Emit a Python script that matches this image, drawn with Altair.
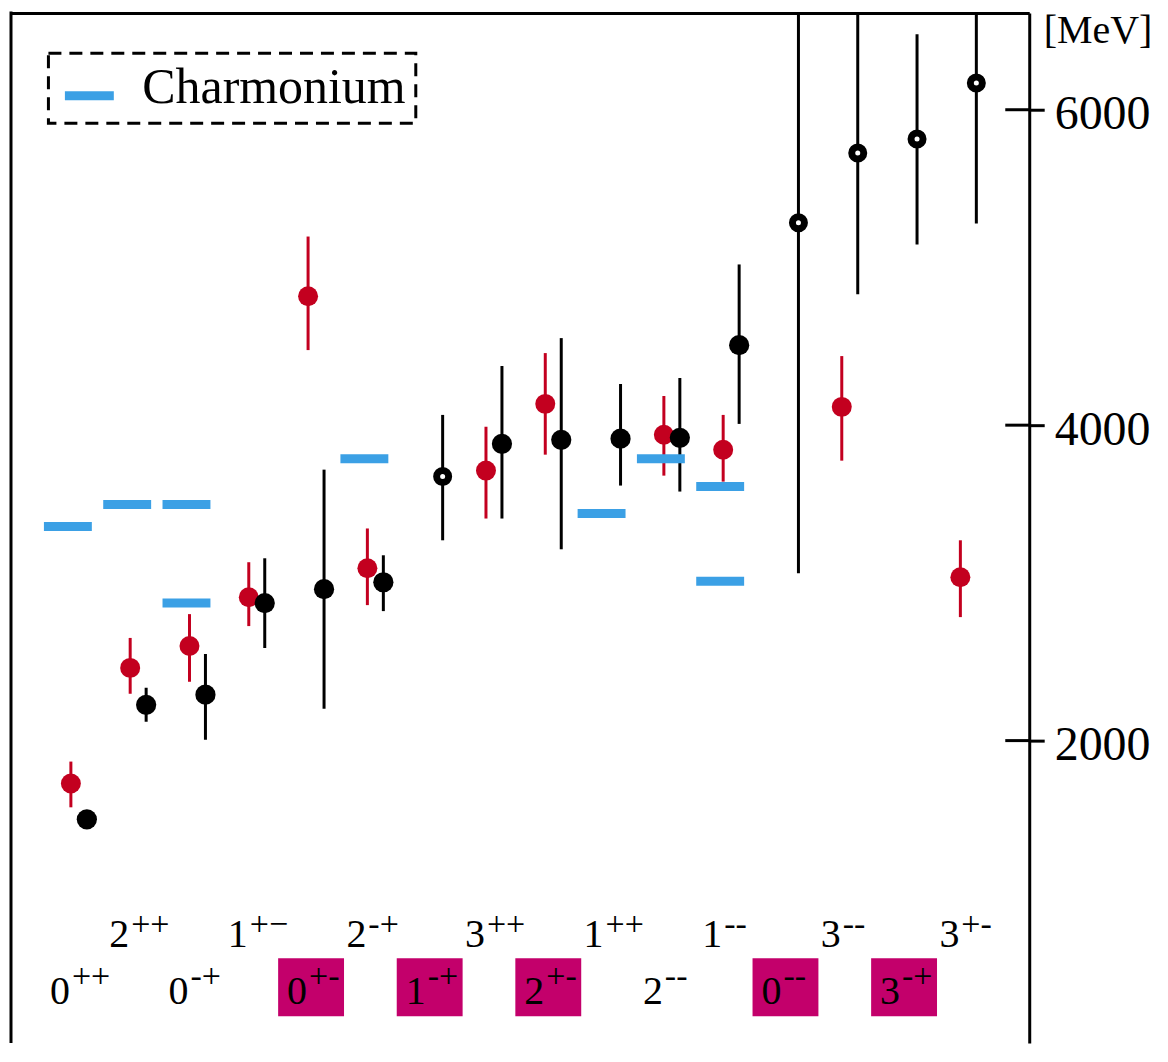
import altair as alt
import pandas as pd

# ---------------- data ----------------
channels = ["0++", "2++", "0-+", "1+\u2212", "0+-", "2-+", "1-+", "3++",
            "2+-", "1++", "2--", "1--", "0--", "3--", "3-+", "3+-"]
label_row = [0, 1, 0, 1, 0, 1, 0, 1, 0, 1, 0, 1, 0, 1, 0, 1]   # 0 = lower row, 1 = upper row
exotic = [0, 0, 0, 0, 1, 0, 1, 0, 1, 0, 0, 0, 1, 0, 1, 0]      # boxed labels

red_ch = [0, 1, 2, 3, 4, 5, 7, 8, 10, 11, 13, 15]
red_mass = [1728, 2461, 2600, 2909, 4817, 3093, 3712, 4135, 3939, 3844, 4116, 3036]
red_lo = [1577, 2297, 2373, 2726, 4476, 2859, 3408, 3813, 3680, 3642, 3775, 2783]
red_hi = [1867, 2651, 2802, 3131, 5196, 3345, 3990, 4457, 4185, 4065, 4438, 3270]

blk_ch = list(range(16))
blk_mass = [1501, 2227, 2291, 2872, 2960, 3004, 3674, 3882, 3907, 3914, 3920, 4507, 5284, 5726, 5815, 6169]
blk_lo = [1501, 2120, 2006, 2587, 2202, 2821, 3270, 3408, 3213, 3617, 3579, 4008, 3061, 4830, 5145, 5278]
blk_hi = [1501, 2335, 2549, 3156, 3718, 3175, 4065, 4375, 4552, 4261, 4299, 5019, 6900, 6900, 6478, 6900]
blk_open = [0, 0, 0, 0, 0, 0, 1, 0, 0, 0, 0, 0, 1, 1, 1, 1]

cc_ch = [0, 1, 2, 2, 5, 9, 10, 11, 11]
cc_mass = [3358, 3497, 3497, 2872, 3787, 3440, 3787, 3611, 3011]

y_ticks = [2000, 4000, 6000]

# ---------------- tables ----------------
red_df = pd.DataFrame({"ch": red_ch, "m": red_mass, "lo": red_lo, "hi": red_hi})
blk_df = pd.DataFrame({"ch": blk_ch, "m": blk_mass, "lo": blk_lo, "hi": blk_hi, "open": blk_open})
cc_df = pd.DataFrame({"ch": cc_ch, "m": cc_mass, "kind": ["Charmonium"] * len(cc_ch)})
lab_df = pd.DataFrame({
    "ch": list(range(len(channels))),
    "base": [c[0] for c in channels],
    "sup": [c[1:] for c in channels],
    "row": label_row,
    "exotic": exotic,
})
tick_df = pd.DataFrame({"v": y_ticks})
frame_df = pd.DataFrame({"a": [0]})

# ---------------- style ----------------
W, H = 1020, 1032
RED = "#c3001f"
BLUE = "#3ba0e5"
MAG = "#c3006b"
BLACK = "#000000"
SERIF = "Liberation Serif"

xs = alt.Scale(domain=[-0.993, 16.178], nice=False, zero=False)
ys = alt.Scale(domain=[82, 6614], nice=False, zero=False)

xaxis = alt.Axis(orient="top", ticks=False, labels=False, grid=False, title=None,
                 domainColor=BLACK, domainWidth=3)
yaxis = alt.Axis(orient="right", values=y_ticks, format="d", grid=False,
                 title="[MeV]", titleAngle=0, titleX=14, titleY=30, titleAlign="left",
                 titleBaseline="alphabetic", titleFont=SERIF, titleFontSize=40,
                 titleFontWeight="normal", titleColor=BLACK,
                 labelFont=SERIF, labelFontSize=48, labelColor=BLACK,
                 labelPadding=10, labelOffset=5,
                 tickSize=15, tickWidth=3, tickColor=BLACK,
                 domainColor=BLACK, domainWidth=3)

X = lambda f: alt.X(f, scale=xs, axis=xaxis)
Y = lambda f: alt.Y(f, scale=ys, axis=yaxis)

# label boxes for exotic quantum numbers
boxes = alt.Chart(lab_df).transform_filter("datum.exotic == 1").transform_calculate(
    x1="datum.ch - 0.488", x2="datum.ch + 0.623"
).mark_rect(color=MAG, opacity=1).encode(
    x=X("x1:Q"), x2="x2:Q", y=alt.value(947), y2=alt.value(1005)
)

def label_layers(row, base_y, sup_y):
    src = alt.Chart(lab_df).transform_filter(f"datum.row == {row}")
    base = src.mark_text(font=SERIF, fontSize=40, align="right", baseline="alphabetic",
                         color=BLACK, dx=0).encode(x=X("ch:Q"), y=alt.value(base_y), text="base:N")
    sup = src.mark_text(font=SERIF, fontSize=34, align="left", baseline="alphabetic",
                        color=BLACK, dx=2).encode(x=X("ch:Q"), y=alt.value(sup_y), text="sup:N")
    return [base, sup]

labels = label_layers(0, 993, 975.5) + label_layers(1, 936, 923.5)

red_err = alt.Chart(red_df).mark_rule(color=RED, strokeWidth=3, xOffset=1).encode(
    x=X("ch:Q"), y=Y("lo:Q"), y2="hi:Q")
red_pts = alt.Chart(red_df).mark_circle(color=RED, size=400, opacity=1, xOffset=1).encode(
    x=X("ch:Q"), y=Y("m:Q"))

blk_err = alt.Chart(blk_df).mark_rule(color=BLACK, strokeWidth=3, xOffset=17, clip=True).encode(
    x=X("ch:Q"), y=Y("lo:Q"), y2="hi:Q")
blk_fill = alt.Chart(blk_df).transform_filter("datum.open == 0").mark_circle(
    color=BLACK, size=410, opacity=1, xOffset=17).encode(x=X("ch:Q"), y=Y("m:Q"))
blk_ring = alt.Chart(blk_df).transform_filter("datum.open == 1").mark_point(
    shape="circle", filled=True, fill="white", stroke=BLACK, strokeWidth=7, size=145,
    opacity=1, xOffset=17).encode(x=X("ch:Q"), y=Y("m:Q"))

cc = alt.Chart(cc_df).mark_tick(orient="horizontal", size=48, thickness=9, opacity=1,
                                xOffset=-2).encode(
    x=X("ch:Q"), y=Y("m:Q"),
    color=alt.Color("kind:N", scale=alt.Scale(domain=["Charmonium"], range=[BLUE]),
                    legend=alt.Legend(title=None, orient="none", legendX=37.5, legendY=40.5,
                                      padding=10, labelFont=SERIF, labelFontSize=50,
                                      labelColor=BLACK, labelLimit=600, labelOffset=28,
                                      symbolType="M-1,0.118L1,0.118L1,0.486L-1,0.486Z",
                                      symbolSize=2401, symbolStrokeWidth=0, symbolOpacity=1,
                                      symbolOffset=6, strokeColor=BLACK)))

inner_ticks = alt.Chart(tick_df).mark_rule(color=BLACK, strokeWidth=3).encode(
    y=Y("v:Q"), x=alt.value(W - 24), x2=alt.value(W))

left_frame = alt.Chart(frame_df).mark_rule(color=BLACK, strokeWidth=3).encode(
    x=alt.value(0), y=alt.value(-1.5), y2=alt.value(H))

chart = alt.layer(
    red_err, boxes, *labels, red_pts, blk_err, blk_fill, blk_ring, cc, inner_ticks, left_frame
).properties(
    width=W, height=H,
    padding={"left": 3, "top": 4, "right": 131, "bottom": 0},
    autosize=alt.AutoSizeParams(type="none"),
).configure(font=SERIF).configure_view(stroke=None).configure_legend(
    strokeDash=[13, 8], strokeWidth=3
)

chart.save("out.html", embed_options={"renderer": "svg", "actions": False})
